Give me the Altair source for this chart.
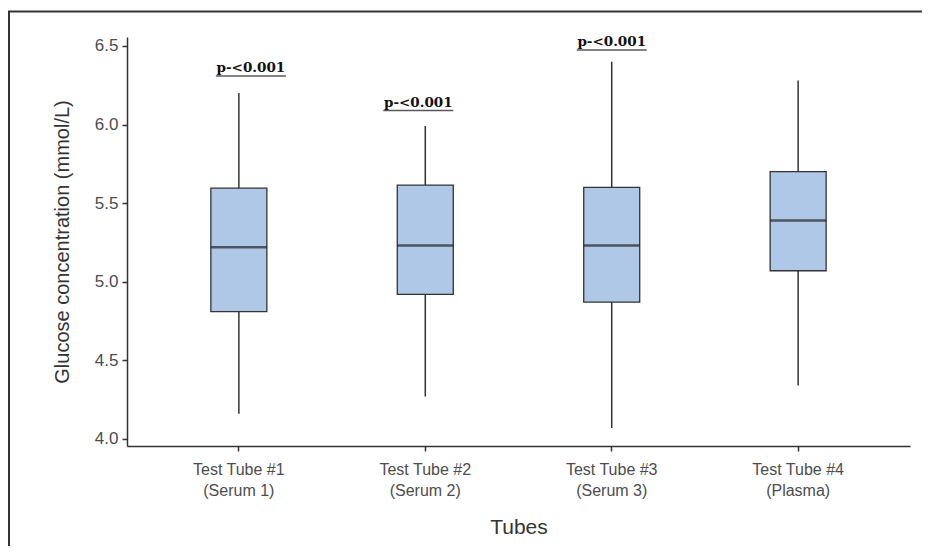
import altair as alt
import pandas as pd

tubes = ["Test Tube #1\n(Serum 1)", "Test Tube #2\n(Serum 2)",
         "Test Tube #3\n(Serum 3)", "Test Tube #4\n(Plasma)"]
whisker_low = [4.16, 4.27, 4.07, 4.34]
q1 = [4.81, 4.92, 4.87, 5.07]
median = [5.22, 5.23, 5.23, 5.39]
q3 = [5.595, 5.615, 5.60, 5.70]
whisker_high = [6.20, 5.99, 6.40, 6.28]

p_tubes = ["Test Tube #1\n(Serum 1)", "Test Tube #2\n(Serum 2)", "Test Tube #3\n(Serum 3)"]
p_labels = ["p-<0.001", "p-<0.001", "p-<0.001"]
p_y = [6.36, 6.14, 6.525]
p_shift = [12, -7, 0]

y_ticks = [4.0, 4.5, 5.0, 5.5, 6.0, 6.5]

W, H = 783, 409
half_step = W / (len(tubes) + 0.2) / 2

df = pd.DataFrame({"tube": tubes, "lo": whisker_low, "q1": q1, "med": median,
                   "q3": q3, "hi": whisker_high})
pdf = pd.DataFrame({"tube": p_tubes, "label": p_labels, "y": p_y, "dx": p_shift})

FONT = "Liberation Sans"
xscale = alt.Scale(type="band", paddingInner=0, paddingOuter=0.1, domain=tubes)
yscale = alt.Scale(domain=[3.955, 6.557], nice=False, zero=False)

xenc = alt.X("tube:N", scale=xscale, sort=tubes, title="Tubes",
             axis=alt.Axis(labelExpr="split(datum.label, '\\n')", labelAngle=0,
                           labelFontSize=16, labelColor="#4d4d4d", labelFont=FONT,
                           labelLineHeight=21, labelPadding=10, tickSize=5,
                           tickColor="#333333", tickWidth=1.5, domainColor="#333333",
                           domainWidth=1.5, titleFontSize=21, titleFont=FONT,
                           titleFontWeight="normal", titleColor="#333333",
                           titlePadding=18, grid=False))
yaxis = alt.Axis(values=y_ticks, format=".1f", labelFontSize=17, labelColor="#4d4d4d",
                 labelFont=FONT, labelPadding=4, tickSize=5, tickColor="#333333",
                 tickWidth=1.5, domainColor="#333333", domainWidth=1.5,
                 titleFontSize=20, titleFont=FONT, titleFontWeight="normal",
                 titleColor="#333333", titlePadding=22, grid=False)

base = alt.Chart(df)

whiskers = base.mark_rule(color="#333333", strokeWidth=1.5).encode(
    x=xenc,
    y=alt.Y("lo:Q", scale=yscale, axis=yaxis, title="Glucose concentration (mmol/L)"),
    y2="hi:Q")

boxes = base.mark_bar(size=56, color="#afc8e7", stroke="#333333", strokeWidth=1.3).encode(
    x=xenc, y=alt.Y("q1:Q", scale=yscale), y2="q3:Q")

medians = base.mark_tick(size=56, thickness=2.5, color="#222222", orient="horizontal").encode(
    x=xenc, y=alt.Y("med:Q", scale=yscale))

pbase = alt.Chart(pdf).transform_calculate(off=f"datum.dx + {half_step}")

ptext = pbase.mark_text(font="DejaVu Serif", fontWeight="bold", fontSize=13.5,
                        color="#111111", baseline="middle").encode(
    x=xenc, xOffset=alt.XOffset("off:Q", scale=None),
    y=alt.Y("y:Q", scale=yscale), text="label:N")

punder = pbase.mark_tick(size=70, thickness=1.5, color="#111111",
                         orient="horizontal", yOffset=8).encode(
    x=xenc, xOffset=alt.XOffset("off:Q", scale=None),
    y=alt.Y("y:Q", scale=yscale))

frame_data = alt.Data(values=[{"a": 1}])
frame_top = alt.Chart(frame_data).mark_rule(color="#333333", strokeWidth=2).encode(
    x=alt.value(-119), x2=alt.value(795), y=alt.value(-25.5))
frame_left = alt.Chart(frame_data).mark_rule(color="#333333", strokeWidth=2).encode(
    x=alt.value(-118), y=alt.value(-26), y2=alt.value(510))

chart = alt.layer(whiskers, boxes, medians, punder, ptext, frame_top, frame_left).properties(
    width=W, height=H,
    autosize=alt.AutoSizeParams(type="none"),
    padding={"left": 119, "top": 29, "right": 12, "bottom": 100},
).configure(background="white").configure_view(strokeWidth=0, stroke="transparent")

chart.save("out.html", embed_options={"renderer": "svg", "actions": False})
